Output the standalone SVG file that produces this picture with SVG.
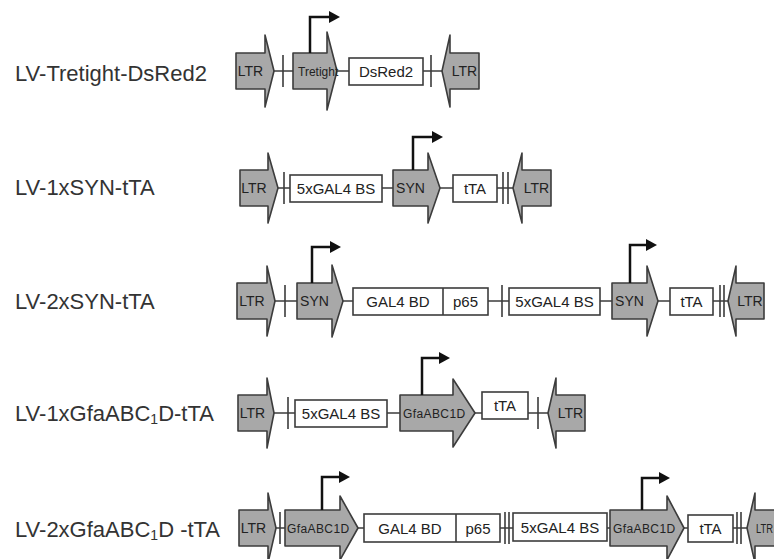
<svg xmlns="http://www.w3.org/2000/svg" width="774" height="559" viewBox="0 0 774 559">
<style>
.arr{fill:#a8a8a8;stroke:#3c3c3c;stroke-width:1.6;stroke-linejoin:round}
.box{fill:#fff;stroke:#3c3c3c;stroke-width:1.6}
.ln{stroke:#3c3c3c;stroke-width:1.6;fill:none}
.prom{stroke:#111;stroke-width:2.5;fill:none}
.ph{fill:#111}
.lbl{font-family:"Liberation Sans",Arial,sans-serif;font-size:22px;fill:#333}
.t15{font-family:"Liberation Sans",Arial,sans-serif;font-size:15px;fill:#222;text-anchor:middle}
.t14{font-family:"Liberation Sans",Arial,sans-serif;font-size:14px;fill:#222;text-anchor:middle}
.t11{font-family:"Liberation Sans",Arial,sans-serif;font-size:12px;fill:#222}
.sub{font-size:14px}
</style>
<rect width="774" height="559" fill="#fff"/>

<g id="labels">
<text class="lbl" x="15" y="81">LV-Tretight-DsRed2</text>
<text class="lbl" x="15" y="195">LV-1xSYN-tTA</text>
<text class="lbl" x="15" y="309">LV-2xSYN-tTA</text>
<text class="lbl" x="15" y="421">LV-1xGfaABC<tspan class="sub" dy="3">1</tspan><tspan dy="-3">D-tTA</tspan></text>
<text class="lbl" x="15" y="537">LV-2xGfaABC<tspan class="sub" dy="3">1</tspan><tspan dy="-3">D -tTA</tspan></text>
</g>

<g id="connectors">
<path class="ln" d="M268,71 H445 M283,55 V87 M431,55 V87"/>
<path class="ln" d="M270,188 H518 M284,172 V204 M503,172 V204 M508,172 V204"/>
<path class="ln" d="M270,301 H732 M285,285 V317 M502,285 V317 M720,285 V317 M724,285 V317"/>
<path class="ln" d="M270,413 H552 M288,397 V429 M538,397 V429"/>
<path class="ln" d="M270,528 H752 M280,512 V544 M505,512 V544 M509,512 V544 M737,512 V544 M741,512 V544"/>
</g>

<g id="row1">
<g id="r1-ltr1"><path class="arr" d="M236,53 H265 V35 L274,71 L265,107 V89 H236 Z"/><text class="t14" x="250.5" y="76">LTR</text></g>
<g id="r1-tretight"><path class="arr" d="M293,53 H327 V32 L337,71 L327,110 V89 H293 Z"/><path class="prom" d="M310,53 V17 H330"/><polygon class="ph" points="329,11 340,17 329,23"/><text class="t11" x="298" y="75.5">Tretight</text></g>
<g id="r1-dsred2"><rect class="box" x="349" y="58" width="74" height="27"/><text class="t15" x="386" y="76.5">DsRed2</text></g>
<g id="r1-ltr2"><path class="arr" d="M479,53 H450 V35 L442,71 L450,107 V89 H479 Z"/><text class="t14" x="464.5" y="76">LTR</text></g>
</g>

<g id="row2">
<g id="r2-ltr1"><path class="arr" d="M240,170 H268 V153 L278,188 L268,223 V206 H240 Z"/><text class="t14" x="254" y="193">LTR</text></g>
<g id="r2-bs"><rect class="box" x="290" y="175" width="92" height="27"/><text class="t15" x="336" y="193.5">5xGAL4 BS</text></g>
<g id="r2-syn"><path class="arr" d="M393,170 H428 V153 L440,188 L428,223 V206 H393 Z"/><path class="prom" d="M413,170 V137 H433"/><polygon class="ph" points="432,131 443,137 432,143"/><text class="t14" x="410.5" y="193">SYN</text></g>
<g id="r2-tta"><rect class="box" x="453" y="175" width="44" height="27"/><text class="t15" x="475" y="193.5">tTA</text></g>
<g id="r2-ltr2"><path class="arr" d="M551,170 H522 V153 L513,188 L522,223 V206 H551 Z"/><text class="t14" x="536.5" y="193">LTR</text></g>
</g>

<g id="row3">
<g id="r3-ltr1"><path class="arr" d="M237,283 H267 V266 L275,301 L267,336 V319 H237 Z"/><text class="t14" x="252" y="306">LTR</text></g>
<g id="r3-syn1"><path class="arr" d="M297,283 H332 V265 L343,301 L332,337 V319 H297 Z"/><path class="prom" d="M312,283 V247 H331"/><polygon class="ph" points="330,241 341,247 330,253"/><text class="t14" x="314.5" y="306">SYN</text></g>
<g id="r3-gal4bd"><rect class="box" x="353" y="288" width="135" height="27"/><path class="ln" d="M443,288 V315"/><text class="t15" x="398" y="306.5">GAL4 BD</text><text class="t15" x="465.5" y="306.5">p65</text></g>
<g id="r3-bs"><rect class="box" x="509" y="288" width="91" height="27"/><text class="t15" x="554.5" y="306.5">5xGAL4 BS</text></g>
<g id="r3-syn2"><path class="arr" d="M612,283 H647 V266 L658,301 L647,336 V319 H612 Z"/><path class="prom" d="M630,283 V245 H647"/><polygon class="ph" points="646,239 657,245 646,251"/><text class="t14" x="629.5" y="306">SYN</text></g>
<g id="r3-tta"><rect class="box" x="670" y="288" width="43" height="27"/><text class="t15" x="691.5" y="306.5">tTA</text></g>
<g id="r3-ltr2"><path class="arr" d="M764,283 H736 V266 L728,301 L736,336 V319 H764 Z"/><text class="t14" x="750" y="306">LTR</text></g>
</g>

<g id="row4">
<g id="r4-ltr1"><path class="arr" d="M238,395 H267 V378 L274,413 L267,448 V431 H238 Z"/><text class="t14" x="252.5" y="418">LTR</text></g>
<g id="r4-bs"><rect class="box" x="295" y="400" width="92" height="27"/><text class="t15" x="341" y="418.5">5xGAL4 BS</text></g>
<g id="r4-gfa"><path class="arr" d="M400,395 H453 V379 L475,413 L453,447 V431 H400 Z"/><path class="prom" d="M422,395 V358 H440"/><polygon class="ph" points="439,352 450,358 439,364"/><text class="t11" x="403" y="417.5" letter-spacing="0.4">GfaABC1D</text></g>
<g id="r4-tta"><rect class="box" x="482" y="392" width="46" height="27"/><text class="t15" x="505" y="410.5">tTA</text></g>
<g id="r4-ltr2"><path class="arr" d="M585,395 H556 V378 L548,413 L556,448 V431 H585 Z"/><text class="t14" x="570.5" y="418">LTR</text></g>
</g>

<g id="row5">
<g id="r5-ltr1"><path class="arr" d="M239,510 H268 V493 L276,528 L268,563 V546 H239 Z"/><text class="t14" x="253.5" y="533">LTR</text></g>
<g id="r5-gfa1"><path class="arr" d="M285,510 H340 V496 L358,528 L340,560 V546 H285 Z"/><path class="prom" d="M322,510 V477 H340"/><polygon class="ph" points="339,471 350,477 339,483"/><text class="t11" x="287" y="532.5" letter-spacing="0.4">GfaABC1D</text></g>
<g id="r5-gal4bd"><rect class="box" x="364" y="514" width="136" height="28"/><path class="ln" d="M456,514 V542"/><text class="t15" x="410" y="533.5">GAL4 BD</text><text class="t15" x="478" y="533.5">p65</text></g>
<g id="r5-bs"><rect class="box" x="513" y="513" width="94" height="28"/><text class="t15" x="560" y="532.5">5xGAL4 BS</text></g>
<g id="r5-gfa2"><path class="arr" d="M610,510 H667 V496 L684,528 L667,560 V546 H610 Z"/><path class="prom" d="M642,510 V478 H660"/><polygon class="ph" points="659,472 670,478 659,484"/><text class="t11" x="613" y="532.5" letter-spacing="0.4">GfaABC1D</text></g>
<g id="r5-tta"><rect class="box" x="688" y="515" width="45" height="27"/><text class="t15" x="710.5" y="533.5">tTA</text></g>
<g id="r5-ltr2"><path class="arr" d="M784,510 H755 V493 L747,528 L755,563 V546 H784 Z"/><text x="756" y="533" font-family="Liberation Sans, Arial, sans-serif" font-size="13" fill="#222" textLength="17" lengthAdjust="spacingAndGlyphs">LTR</text></g>
</g>
</svg>
